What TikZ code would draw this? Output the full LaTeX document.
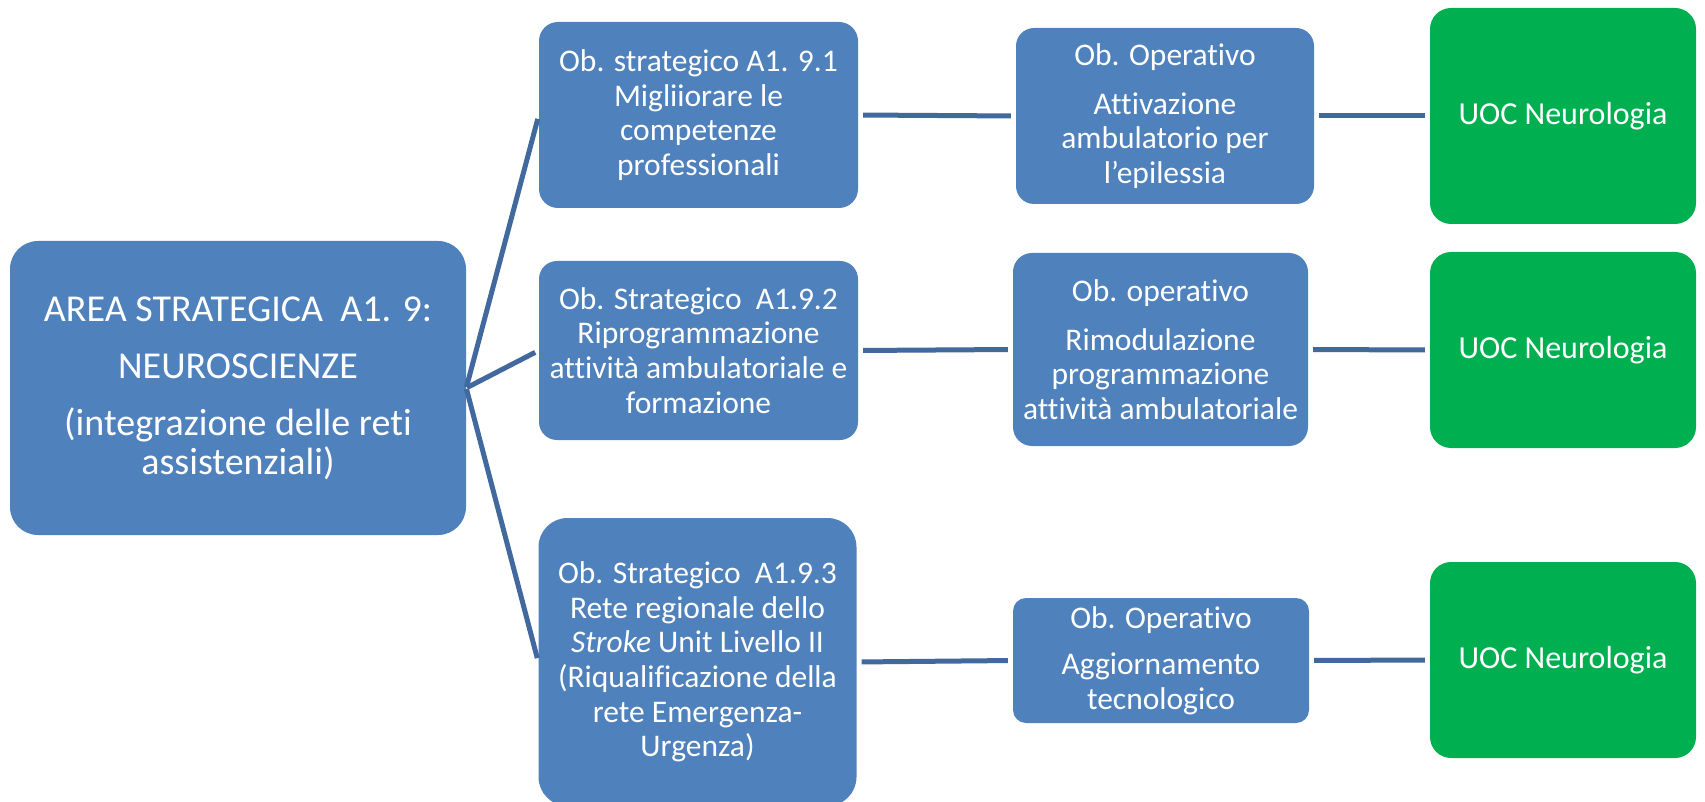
\documentclass[tikz,border=0pt]{standalone}
\usepackage{fontspec}
\setmainfont{Carlito}[Ligatures=NoCommon]
\definecolor{boxblue}{HTML}{4F81BD}
\definecolor{boxgreen}{HTML}{00B050}
\definecolor{linkblue}{HTML}{41699D}
\begin{document}
\begin{tikzpicture}[x=1pt,y=-1pt,
  blk/.style={fill=boxblue, text=white, align=center, inner sep=0pt, rounded corners=#1},
  blk/.default=18pt,
  grn/.style={fill=boxgreen, text=white, align=center, inner sep=0pt, rounded corners=21pt,
    minimum width=266pt, minimum height=#1, font=\fontsize{32}{38}\selectfont},
  bigtext/.style={font=\fontsize{38}{39}\selectfont},
  obtext/.style={font=\fontsize{31.5}{34.7}\selectfont},
  link/.style={draw=linkblue, line width=5pt, shorten <=5pt, shorten >=5pt},
  fanlink/.style={draw=linkblue, line width=5pt, shorten <=1pt, shorten >=4pt}
]
\useasboundingbox (0,0) rectangle (1705,802);

% root area
\node[blk=28pt, bigtext, minimum width=456pt, minimum height=294pt] (M) at (238,388)
  {AREA STRATEGICA\ \ A1. 9:\\[18pt]NEUROSCIENZE\\[18pt](integrazione delle reti\\assistenziali)};

% strategic objectives
\node[blk=19pt, obtext, minimum width=319pt, minimum height=186pt] (S1) at (698.5,115)
  {Ob. strategico A1. 9.1\\Migliiorare le\\competenze\\professionali};
\node[blk=18pt, obtext, minimum width=319pt, minimum height=179pt] (S2) at (698.5,350.5)
  {Ob. Strategico\ \ A1.9.2\\Riprogrammazione\\attività ambulatoriale e\\formazione};
\node[blk=29pt, obtext, minimum width=318pt, minimum height=288pt] (S3) at (697.5,662)
  {Ob. Strategico\ \ A1.9.3\\Rete regionale dello\\\textit{Stroke} Unit Livello II\\(Riqualificazione della\\rete Emergenza-\\Urgenza)};

% operational objectives
\node[blk=18pt, obtext, minimum width=298pt, minimum height=176pt] (O1) at (1165,116)
  {Ob. Operativo\\[14.5pt]Attivazione\\ambulatorio per\\l’epilessia};
\node[blk=19pt, obtext, minimum width=295pt, minimum height=193pt] (O2) at (1160.5,349.5)
  {Ob. operativo\\[14.5pt]Rimodulazione\\programmazione\\attività ambulatoriale};
\node[blk=13pt, obtext, minimum width=296pt, minimum height=125pt] (O3) at (1161,660.5)
  {Ob. Operativo\\[12pt]Aggiornamento\\tecnologico};

% responsible units
\node[grn=216pt] (G1) at (1563,116) {UOC Neurologia};
\node[grn=196pt] (G2) at (1563,350) {UOC Neurologia};
\node[grn=196pt] (G3) at (1563,660) {UOC Neurologia};

% connectors
\draw[fanlink] (M.east) -- (S1.west);
\draw[fanlink] (M.east) -- (S2.west);
\draw[fanlink] (M.east) -- (S3.west);
\draw[link] (S1.east) -- (O1.west);
\draw[link] (S2.east) -- (O2.west);
\draw[link] (S3.east) -- (O3.west);
\draw[link] (O1.east) -- (G1.west);
\draw[link] (O2.east) -- (G2.west);
\draw[link] (O3.east) -- (G3.west);
\end{tikzpicture}
\end{document}
